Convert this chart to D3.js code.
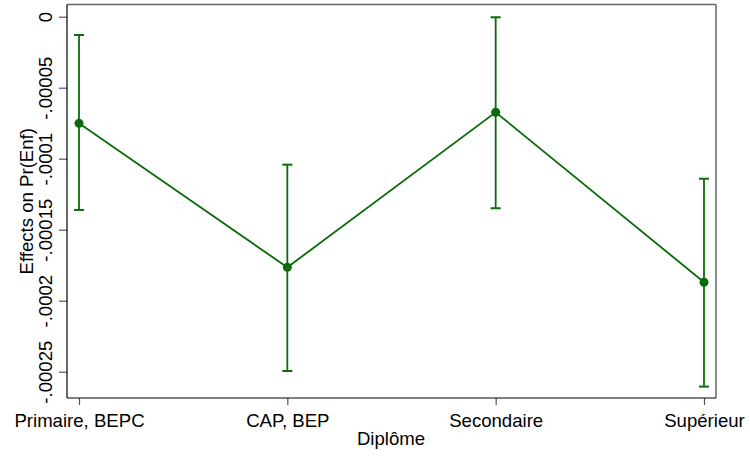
<!DOCTYPE html>
<html><head><meta charset="utf-8">
<script src="https://cdn.jsdelivr.net/npm/d3@7"></script>
<style>body{margin:0;background:#fff}svg{display:block}text{font-family:"Liberation Sans",Arial,sans-serif;fill:#000}</style>
</head><body>
<svg id="c" width="750" height="456"></svg>
<script>
const categories = ["Primaire, BEPC", "CAP, BEP", "Secondaire", "Supérieur"];
const effects = [-0.0000751, -0.0001765, -0.0000673, -0.0001870];
const ciUpper = [-0.0000129, -0.0001042, -0.0000004, -0.0001141];
const ciLower = [-0.0001361, -0.0002495, -0.0001349, -0.0002605];
const yTicks = [0, -0.00005, -0.0001, -0.00015, -0.0002, -0.00025];
const yTickLabels = ["0", "-.00005", "-.0001", "-.00015", "-.0002", "-.00025"];

const svg = d3.select("#c");
const L = 67, R = 716, T = 4.5, B = 398;
const green = "#0a6b0a";
const FS = 18.6;

const x = d3.scalePoint().domain(categories).range([79, 704]);
const y = d3.scaleLinear().domain([-0.00025, 0]).range([371.7, 16.7]);

// frame
svg.append("line").attr("x1", L).attr("x2", R).attr("y1", T).attr("y2", T).attr("stroke", "#666").attr("stroke-width", 1.5);
svg.append("line").attr("x1", R).attr("x2", R).attr("y1", T).attr("y2", B).attr("stroke", "#666").attr("stroke-width", 1.5);

// y axis
const ya = svg.append("g").attr("transform", `translate(${L},0)`)
  .call(d3.axisLeft(y).tickValues(yTicks).tickSize(8).tickFormat((d,i)=>yTickLabels[i]));
ya.select(".domain").remove();
ya.selectAll(".tick line").attr("stroke", "#555").attr("stroke-width", 1.2);
ya.selectAll(".tick text").attr("font-size", FS).attr("font-family", '"Liberation Sans",Arial,sans-serif')
  .attr("fill", "#000").attr("transform", "rotate(-90)").attr("x", 0).attr("y", -15)
  .attr("dy", 0).attr("text-anchor", "middle");
svg.append("line").attr("x1", L).attr("x2", L).attr("y1", T).attr("y2", B).attr("stroke", "#000").attr("stroke-width", 1.2);

// x axis
const xa = svg.append("g").attr("transform", `translate(0,${B})`)
  .call(d3.axisBottom(x).tickSize(7));
xa.select(".domain").remove();
xa.selectAll(".tick line").attr("stroke", "#555").attr("stroke-width", 1.2);
xa.selectAll(".tick text").attr("font-size", FS).attr("font-family", '"Liberation Sans",Arial,sans-serif')
  .attr("fill", "#000").attr("y", 29).attr("dy", 0);
svg.append("line").attr("x1", L).attr("x2", R).attr("y1", B).attr("y2", B).attr("stroke", "#000").attr("stroke-width", 1.2);

// titles
svg.append("text").attr("x", 391).attr("y", 445).attr("text-anchor", "middle").attr("font-size", FS).text("Diplôme");
svg.append("text").attr("transform", `translate(33,${(T+B)/2}) rotate(-90)`).attr("text-anchor", "middle").attr("font-size", FS).text("Effects on Pr(Enf)");

// error bars
const data = categories.map((c,i)=>({c, v: effects[i], hi: ciUpper[i], lo: ciLower[i]}));
const g = svg.append("g");
g.selectAll(".eb").data(data).join("line")
  .attr("x1", d=>x(d.c)).attr("x2", d=>x(d.c)).attr("y1", d=>y(d.hi)).attr("y2", d=>y(d.lo))
  .attr("stroke", green).attr("stroke-width", 1.8);
["hi","lo"].forEach(k=>{
  g.selectAll(".cap"+k).data(data).join("line")
    .attr("x1", d=>x(d.c)-5).attr("x2", d=>x(d.c)+5).attr("y1", d=>y(d[k])).attr("y2", d=>y(d[k]))
    .attr("stroke", green).attr("stroke-width", 2);
});
// line
g.append("path").datum(data)
  .attr("d", d3.line().x(d=>x(d.c)).y(d=>y(d.v)))
  .attr("fill", "none").attr("stroke", green).attr("stroke-width", 1.8);
g.selectAll("circle").data(data).join("circle")
  .attr("cx", d=>x(d.c)).attr("cy", d=>y(d.v)).attr("r", 4.5).attr("fill", green);
</script>
</body></html>
